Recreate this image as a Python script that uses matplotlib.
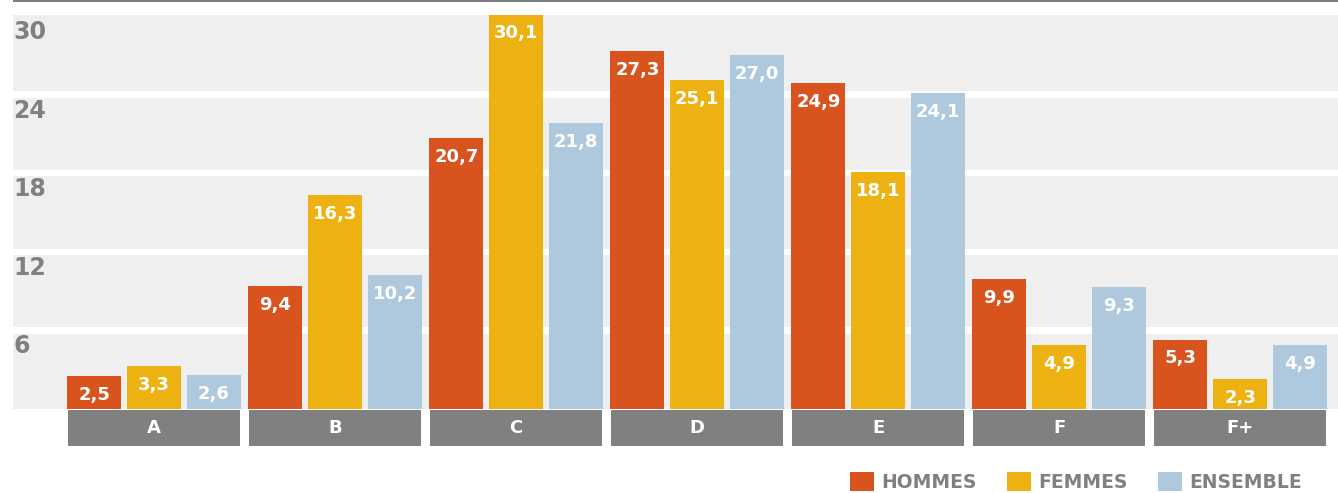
import matplotlib.pyplot as plt
from matplotlib.patches import Patch

# data
classes = ["A", "B", "C", "D", "E", "F", "F+"]
hommes = [2.5, 9.4, 20.7, 27.3, 24.9, 9.9, 5.3]
femmes = [3.3, 16.3, 30.1, 25.1, 18.1, 4.9, 2.3]
ensemble = [2.6, 10.2, 21.8, 27.0, 24.1, 9.3, 4.9]
series_names = ["HOMMES", "FEMMES", "ENSEMBLE"]
y_ticks = [6, 12, 18, 24, 30]

colors = ["#D9531E", "#EDB112", "#AEC9DE"]
band_color = "#EFEFEF"
grey = "#808080"

fig = plt.figure(figsize=(13.38, 4.93), dpi=100)
ax = fig.add_axes([0, 0, 1, 1])
ax.set_xlim(-0.851, 6.541)
ax.set_ylim(-6.41, 31.22)
ax.axis("off")

# background bands, separated by a white gap at each tick value
band_left = -0.779
band_right = 6.541
edges = [0] + y_ticks
for lo, hi in zip(edges[:-1], edges[1:]):
    bottom = lo + 0.25 if lo > 0 else 0
    top = hi - 0.25 if hi < y_ticks[-1] else hi + 0.1
    ax.fill_between([band_left, band_right], bottom, top, color=band_color,
                    lw=0, zorder=0)
for t in y_ticks:
    ax.text(band_left, t - 0.3, str(t), ha="left", va="top", fontsize=17,
            fontweight="bold", color=grey, zorder=1)

# thin line at the very top
ax.plot([band_left, band_right], [31.12, 31.12], color=grey, lw=1.5,
        solid_capstyle="butt", zorder=1)

# bars
xs = list(range(len(classes)))
bar_w = 0.298
for j, (vals, col) in enumerate(zip([hommes, femmes, ensemble], colors)):
    pos = [x + (j - 1) * 0.33 for x in xs]
    ax.bar(pos, vals, width=bar_w, color=col, zorder=2)
    for p, v in zip(pos, vals):
        ax.annotate(f"{v:.1f}".replace(".", ","), (p, v), xytext=(0, -7),
                    textcoords="offset points", ha="center", va="top",
                    fontsize=13, fontweight="bold", color="white", zorder=4)

# category boxes under the bars
ax.bar(xs, [-2.75] * len(xs), width=0.95, bottom=-0.05, color=grey, zorder=3)
for x, c in zip(xs, classes):
    ax.text(x, -1.42, c, ha="center", va="center", fontsize=13,
            fontweight="bold", color="white", zorder=4)

# legend
handles = [Patch(facecolor=c, edgecolor="none") for c in colors]
ax.legend(handles, series_names, loc="center right",
          bbox_to_anchor=(1302 / 1338, 1 - 482 / 493), ncol=3, frameon=False,
          prop={"size": 13.5, "weight": "bold"}, labelcolor=grey,
          handlelength=1.28, handleheight=1.12, handletextpad=0.37,
          columnspacing=1.65, borderpad=0, borderaxespad=0)

fig.savefig("out.png", dpi=100)
